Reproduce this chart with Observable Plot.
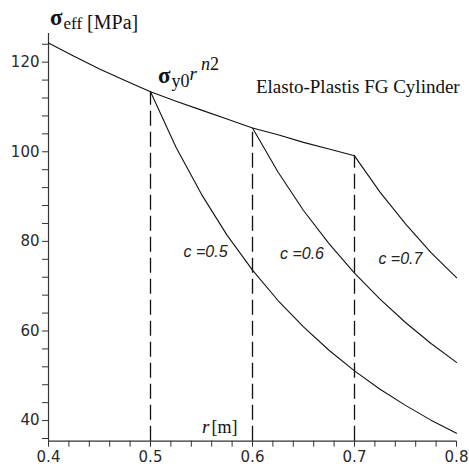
<!DOCTYPE html>
<html><head><meta charset="utf-8">
<script src="https://cdn.jsdelivr.net/npm/d3@7"></script>
<script src="https://cdn.jsdelivr.net/npm/@observablehq/plot@0.6"></script>
<style>body{margin:0;background:#fff} #chart svg{display:block}</style>
</head><body><div id="chart"></div>
<script>
// Plastic branch sigma_y0 * r^n2 (r from 0.4 to 0.7)
const rPlastic = [0.4, 0.425, 0.45, 0.475, 0.5, 0.525, 0.55, 0.575, 0.6, 0.625, 0.65, 0.675, 0.7];
const sPlastic = [124.3, 121.3, 118.5, 115.9, 113.4, 111.3, 109.3, 107.3, 105.3, 103.8, 102.1, 100.6, 99.1];
// Elastic branches
const rC05 = [0.5, 0.525, 0.55, 0.575, 0.6, 0.625, 0.65, 0.675, 0.7, 0.725, 0.75, 0.775, 0.8];
const sC05 = [113.4, 101.0, 90.5, 81.4, 73.6, 66.8, 60.9, 55.7, 51.1, 47.0, 43.4, 40.1, 37.2];
const rC06 = [0.6, 0.625, 0.65, 0.675, 0.7, 0.725, 0.75, 0.775, 0.8];
const sC06 = [105.3, 95.5, 86.9, 79.5, 72.9, 67.1, 61.9, 57.2, 53.0];
const rC07 = [0.7, 0.725, 0.75, 0.775, 0.8];
const sC07 = [99.1, 91.0, 83.9, 77.5, 71.9];
// elasto-plastic boundaries c
const cValues = [0.5, 0.6, 0.7];
const cTop = [113.4, 105.3, 99.1];
const cLabels = ["c =0.5", "c =0.6", "c =0.7"];
const cLabelR = [0.554, 0.6485, 0.745];
const cLabelS = [77.6, 77.2, 76.0];
// axes
const xDomain = [0.4, 0.8];
const yDomain = [35.4, 126.4];
const xTicks = [0.4,0.42,0.44,0.46,0.48,0.5,0.52,0.54,0.56,0.58,0.6,0.62,0.64,0.66,0.68,0.7,0.72,0.74,0.76,0.78,0.8];
const xTickLabels = [0.4, 0.5, 0.6, 0.7, 0.8];
const yTicks = [36,40,44,48,52,56,60,64,68,72,76,80,84,88,92,96,100,104,108,112,116,120,124];
const yTickLabels = [40, 60, 80, 100, 120];

const lines = [];
rPlastic.forEach((r, i) => lines.push({r, s: sPlastic[i], series: "plastic"}));
rC05.forEach((r, i) => lines.push({r, s: sC05[i], series: "c05"}));
rC06.forEach((r, i) => lines.push({r, s: sC06[i], series: "c06"}));
rC07.forEach((r, i) => lines.push({r, s: sC07[i], series: "c07"}));
const cuts = cValues.map((c, i) => ({r: c, top: cTop[i]}));
const cText = cLabels.map((t, i) => ({t, r: cLabelR[i], s: cLabelS[i]}));

const near = (arr, v) => arr.some(a => Math.abs(a - v) < 1e-6);

const chart = Plot.plot({
  width: 469, height: 468,
  marginLeft: 48, marginRight: 13, marginTop: 33, marginBottom: 27.3,
  x: {domain: xDomain},
  y: {domain: yDomain},
  style: {fontFamily: "DejaVu Sans", fontSize: "15px", color: "#2a2a2a", background: "#fff"},
  marks: [
    Plot.axisX(xTicks, {tickSize: 6, tickPadding: 4, fontSize: 15, label: null, stroke: "#333",
      tickFormat: d => near(xTickLabels, d) ? d.toFixed(1) : ""}),
    Plot.axisY(yTicks, {tickSize: 6, tickPadding: 3, fontSize: 15, label: null, stroke: "#333",
      tickFormat: d => near(yTickLabels, d) ? String(d) : ""}),
    Plot.ruleX([xDomain[0]], {stroke: "#333", strokeWidth: 1.2}),
    Plot.ruleY([yDomain[0]], {stroke: "#333", strokeWidth: 1.2}),
    Plot.ruleX(cuts, {x: "r", y1: yDomain[0], y2: "top", stroke: "#111", strokeWidth: 1.3, strokeDasharray: "15,6"}),
    Plot.line(lines, {x: "r", y: "s", z: "series", stroke: "#111", strokeWidth: 1.1}),
    Plot.text(cText, {x: "r", y: "s", text: "t", fontFamily: "Liberation Sans", fontStyle: "italic", fontSize: 16, fill: "#222"})
  ]
});
document.getElementById("chart").appendChild(chart);

// serif annotations with sub/superscripts, positioned through the scales
const xs = chart.scale("x"), ys = chart.scale("y");
const svg = d3.select(chart);
const serif = "Liberation Serif";
function note(r, s, parts) {
  const t = svg.append("text").attr("x", xs.apply(r)).attr("y", ys.apply(s))
    .attr("text-anchor", "start")
    .attr("font-family", serif).attr("fill", "#111");
  parts.forEach(p => {
    const ts = t.append("tspan").text(p.text).attr("font-size", p.size);
    if (p.bold) ts.attr("font-weight", "bold");
    if (p.italic) ts.attr("font-style", "italic");
    if (p.dy) ts.attr("dy", p.dy);
    if (p.dx) ts.attr("dx", p.dx);
  });
}
note(0.402, 128.17, [
  {text: "σ", size: 23, bold: true},
  {text: "eff", size: 17, dy: 4, dx: 1},
  {text: " [MPa]", size: 20, dy: -0.5}
]);
note(0.5078, 115.2, [
  {text: "σ", size: 23, bold: true},
  {text: "y0", size: 18, dy: 4, dx: 1},
  {text: "r", size: 19, italic: true, dy: -7},
  {text: "n", size: 18, italic: true, dy: -10, dx: 4},
  {text: "2", size: 18}
]);
note(0.6039, 113.0, [{text: "Elasto-Plastis FG Cylinder", size: 19}]);
note(0.551, 37.1, [
  {text: "r", size: 19, italic: true},
  {text: "[m]", size: 18, dx: 2}
]);
</script>
</body></html>
